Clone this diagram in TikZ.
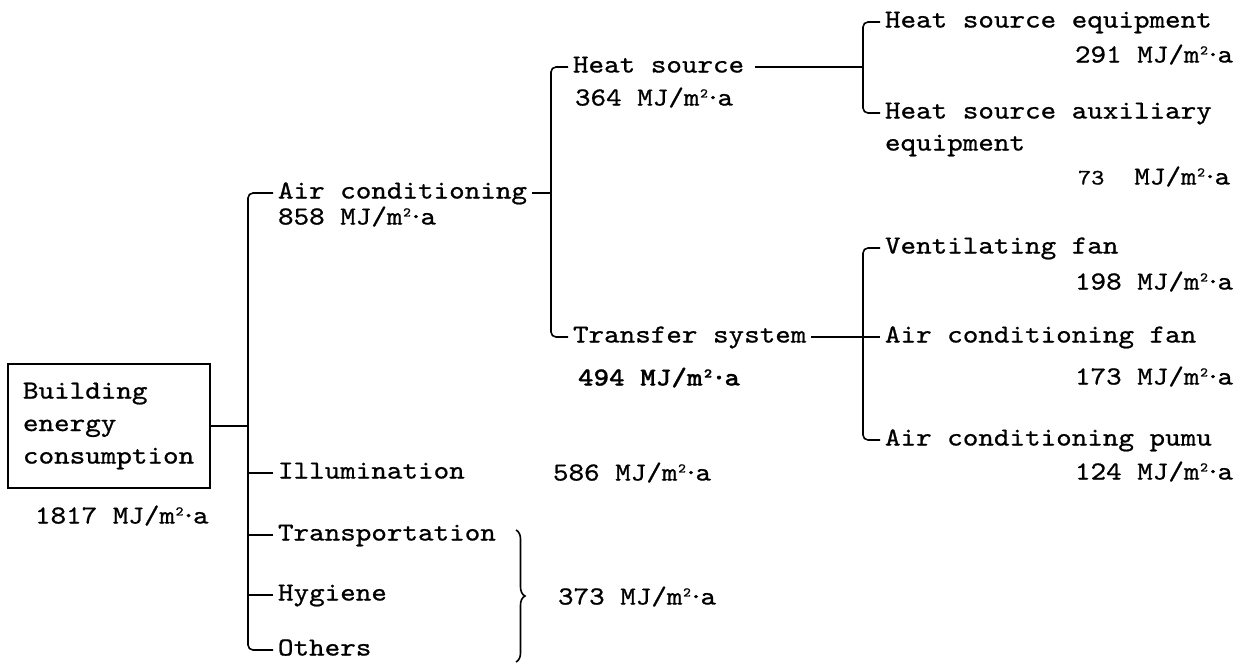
\documentclass[tikz,border=0pt]{standalone}
\usepackage{fontspec}
\newfontfamily\cour{lmmono10-regular.otf}[FakeStretch=1.14, FakeBold=0.8]
\newfontfamily\courb{lmmonolt10-bold.otf}[FakeStretch=1.14, FakeBold=0.8]
\usetikzlibrary{decorations.pathreplacing}
\newcommand\mju{MJ/m\makebox[9pt]{²}\makebox[9pt]{·}a}
\newcommand\mjub{MJ/m\makebox[11pt]{²}\makebox[11pt]{·}a}
\begin{document}
\begin{tikzpicture}[x=1pt,y=-1pt,
  lbl/.style={font=\cour\fontsize{26}{32}\selectfont, inner sep=0pt, outer xsep=5pt,
              text height=11pt, text depth=0pt, anchor=west},
  val/.style={lbl, outer xsep=0pt},
  conn/.style={line width=1.6pt, rounded corners=5pt},
  brc/.style={line width=1.6pt, decorate, decoration={brace, amplitude=9pt}}]
\useasboundingbox (0,0) rectangle (1250,662);
% root box
\node[draw, line width=1.6pt, anchor=center, minimum width=202pt, minimum height=124pt,
      font=\cour\fontsize{26}{32.5}\selectfont,
      text width=172pt, align=left, inner xsep=15pt, outer sep=0pt] (box) at (109,426)
      {Building\\energy\\consumption};
\node[val] (v1817) at (35,518) {1817 \mju};
% junctions
\coordinate (t1) at (248,426);
\coordinate (t2) at (551,193);
\coordinate (t3) at (863,67);
\coordinate (t4) at (863,337);
% level 1
\node[lbl] (ac) at (273,193) {Air conditioning};
\node[val] (v858) at (278,219) {858 \mju};
\node[lbl] (ill) at (273,473) {Illumination};
\node[val] (v586) at (553,475) {586 \mju};
\node[lbl] (tra) at (273,535) {Transportation};
\node[lbl] (hyg) at (273,595) {Hygiene};
\node[lbl] (oth) at (273,650) {Others};
\coordinate (bt) at (516,530);
\coordinate (bb) at (516,662);
\node[val] (v373) at (558,599) {373 \mju};
% level 2
\node[lbl] (hs) at (568,67) {Heat source};
\node[val] (v364) at (575,100) {364 \mju};
\node[lbl] (ts) at (568,337) {Transfer system};
\node[val, font=\courb\fontsize{26}{32}\selectfont] (v494) at (578,380) {494 \mjub};
% level 3
\node[lbl] (hse) at (880,22) {Heat source equipment};
\node[val] (v291) at (1075,57) {291 \mju};
\node[lbl] (hsa) at (880,113) {Heat source auxiliary};
\node[val] (hsa2) at (885,145) {equipment};
\node[val] (v73) at (1078,179) {{\fontsize{22}{26}\selectfont 73}\kern30pt\mju};
\node[lbl] (vf) at (880,248) {Ventilating fan};
\node[val] (v198) at (1075,284) {198 \mju};
\node[lbl] (acf) at (880,337) {Air conditioning fan};
\node[val] (v173) at (1075,379) {173 \mju};
\node[lbl] (acp) at (880,440) {Air conditioning pumu};
\node[val] (v124) at (1075,474) {124 \mju};
% connectors
\draw[conn] (box.east |- t1) -- (t1);
\draw[conn] (ac.west) -| (t1) |- (oth.west);
\draw[conn] (ill.west) -- (ill.west -| t1);
\draw[conn] (tra.west) -- (tra.west -| t1);
\draw[conn] (hyg.west) -- (hyg.west -| t1);
\draw[brc] (bt) -- (bb);
\draw[conn] (ac.east) -- (ac.east -| t2);
\draw[conn] ([xshift=6pt]hs.east) -- (hs.east -| t3);
\draw[conn] (hs.west) -| (t2) |- (ts.west);
\draw[conn] (hse.west) -| (t3) |- (hsa.west);
\draw[conn] (ts.east) -- (acf.west);
\draw[conn] (vf.west) -| (t4) |- (acp.west);
\end{tikzpicture}
\end{document}
